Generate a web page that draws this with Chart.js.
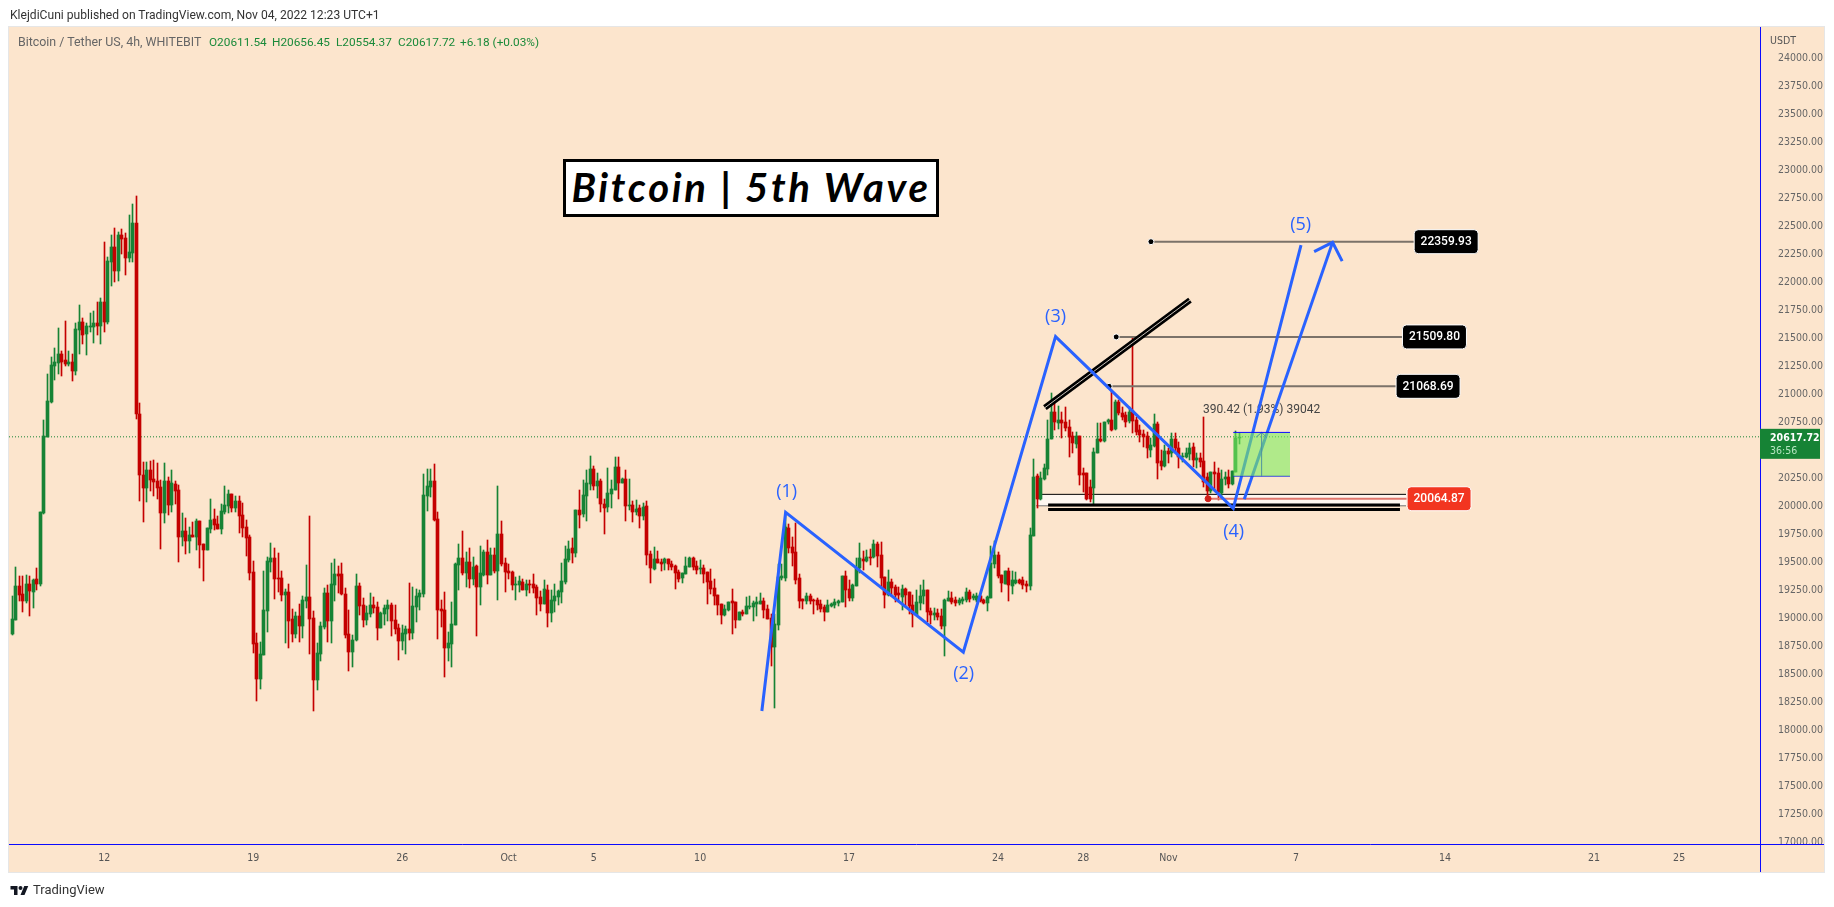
<!DOCTYPE html>
<html>
<head>
<meta charset="utf-8">
<title>Bitcoin | 5th Wave</title>
<script src="https://cdn.jsdelivr.net/npm/chart.js@4/dist/chart.umd.min.js"></script>
<style>
    html, body { margin: 0; padding: 0; background: #fff; width: 1834px; height: 907px; overflow: hidden; }
    body { font-family: Roboto, sans-serif; }
    #frame { position: absolute; left: 8px; top: 26px; width: 1817px; height: 847px; box-sizing: border-box; background: #fce5cd; border: 1px solid #e6e6e6; }
    canvas { position: absolute; left: 0; top: 0; }
    .text { position: absolute; white-space: nowrap; font-size: 12px; line-height: 14px; }
    #published { left: 10px; top: 8px; color: #333; font-size: 12.1px; }
    #symbol { left: 18px; top: 35px; color: #666; font-size: 12.4px; }
    .ohlc { top: 35px; color: #1a8a3a; font-size: 11.8px; }
    #title { position: absolute; left: 563px; top: 159px; width: 376px; height: 58px; box-sizing: border-box; background: #fff; border: 3px solid #000; font: italic bold 40px Lato, sans-serif; letter-spacing: 2.7px; line-height: 50px; text-align: center; color: #000; white-space: nowrap; }
    #logo { position: absolute; left: 10px; top: 884px; width: 19px; height: 14px; }
    #brand { left: 33px; top: 882px; font-size: 13px; line-height: 16px; color: #333; }
</style>
</head>
<body>
<div id="frame"></div>
<canvas id="chart" width="1834" height="907"></canvas>
<div class="text" id="published">KlejdiCuni published on TradingView.com, Nov 04, 2022 12:23 UTC+1</div>
<div class="text" id="symbol">Bitcoin / Tether US, 4h, WHITEBIT</div>
<div class="text ohlc" style="left:209px">O20611.54</div>
<div class="text ohlc" style="left:272px">H20656.45</div>
<div class="text ohlc" style="left:336px">L20554.37</div>
<div class="text ohlc" style="left:398px">C20617.72</div>
<div class="text ohlc" style="left:460px">+6.18 (+0.03%)</div>
<div id="title">Bitcoin | 5th Wave</div>
<svg id="logo" viewBox="0 0 36 28"><path fill="#131722" d="M14 22H7V11H0V4h14v18zM28 22h-8l7.5-18h8L28 22z"/><circle fill="#131722" cx="20" cy="8" r="4"/></svg>
<div class="text" id="brand">TradingView</div>
<script>
// candles, 4h
const opens = [
    18857,18982,19286,19214,19152,19303,19232,19348,19303,19937,
    20616,20928,21250,21276,21357,21303,21268,21285,21205,21571,
    21643,21535,21598,21598,21634,21607,21821,21643,22178,22312,
    22098,22419,22392,22214,22259,22526,20821,20277,20160,20321,
    20241,20223,20169,19937,20223,20009,20196,20143,19723,19777,
    19687,19741,19723,19866,19661,19607,19794,19884,19839,19794,
    19946,20000,20107,19982,20044,19919,19812,19723,19410,18777,
    18455,18669,19062,19500,19536,19357,19357,19205,19232,18991,
    18857,19018,18928,19152,19187,19000,18446,18678,18919,19223,
    18973,19294,19393,19393,19214,18857,18696,18803,19285,19116,
    18982,19036,19116,19098,18910,19036,19080,19116,18982,18910,
    18794,18857,18902,18866,19098,19187,19214,20089,20169,20223,
    19884,19080,19071,18732,18768,18937,19473,19536,19402,19500,
    19348,19464,19277,19384,19589,19384,19562,19419,19750,19491,
    19419,19410,19294,19294,19321,19250,19303,19303,19277,19187,
    19125,19250,19045,19152,19187,19232,19321,19518,19625,19580,
    19964,19928,20089,20196,20330,20178,20223,20018,19991,20107,
    20143,20348,20206,20241,20000,20009,19950,19979,19911,20000,
    19572,19438,19527,19500,19491,19527,19482,19465,19411,19357,
    19393,19456,19536,19465,19438,19447,19411,19331,19268,19206,
    19125,19027,19072,19152,19143,18982,19054,19036,19098,19098,
    19125,19125,19152,19081,19000,18741,18938,19357,19357,19804,
    19634,19590,19357,19170,19152,19197,19161,19161,19125,19099,
    19054,19107,19116,19134,19143,19375,19259,19179,19286,19447,
    19527,19509,19545,19545,19661,19563,19366,19206,19322,19277,
    19224,19188,19259,19232,19116,19027,19134,19197,19250,19063,
    19027,19045,19018,18929,19152,19179,19161,19134,19152,19161,
    19232,19179,19161,19197,19161,19134,19179,19482,19563,19384,
    19304,19420,19286,19313,19340,19340,19304,19286,19732,20268,
    20063,20241,20330,20595,20839,20744,20768,20753,20708,20625,
    20554,20625,20292,20292,20167,20164,20477,20599,20581,20747,
    20765,20685,20926,20828,20813,20762,20851,20768,20679,20643,
    20625,20500,20536,20732,20402,20357,20491,20471,20596,20515,
    20435,20435,20465,20524,20411,20432,20402,20262,20134,20307,
    20292,20119,20238,20262,20197,20307,20611
];
const highs = [
    19196,19455,19375,19375,19384,19375,19348,19446,19946,20768,
    21178,21330,21410,21589,21384,21651,21384,21357,21634,21794,
    21678,21634,21723,21741,21821,21857,22357,22223,22419,22482,
    22446,22473,22437,22598,22696,22767,20919,20393,20393,20402,
    20410,20384,20232,20384,20259,20321,20223,20187,19937,19893,
    19812,19857,19884,19866,19661,19803,20062,19973,19911,20018,
    20178,20143,20107,20089,20089,20027,19875,19741,19509,18866,
    18786,19419,19544,19670,19625,19580,19419,19259,19303,19080,
    19053,19125,19196,19473,19910,19062,18777,18964,19268,19294,
    19491,19527,19464,19491,19268,19071,18848,19393,19312,19178,
    19107,19223,19187,19143,19053,19116,19161,19134,19116,18946,
    18937,18928,19312,19277,19259,19250,20285,20330,20330,20375,
    19946,19161,19232,18875,19143,19491,19660,19777,19589,19625,
    19544,19473,19643,19607,19696,19625,19625,20178,19866,19536,
    19482,19419,19366,19375,19348,19339,19339,19393,19294,19241,
    19339,19294,19250,19303,19250,19491,19643,19687,19714,19964,
    20143,20232,20321,20446,20357,20294,20241,20062,20339,20232,
    20438,20438,20247,20322,20241,20045,20054,20009,20024,20045,
    19598,19634,19598,19527,19536,19527,19509,19473,19429,19402,
    19545,19545,19545,19509,19518,19473,19411,19438,19348,19206,
    19125,19116,19143,19259,19143,19054,19072,19188,19197,19152,
    19188,19223,19179,19116,19036,19036,19482,19482,19950,19840,
    19723,19848,19393,19170,19224,19215,19170,19179,19161,19116,
    19161,19134,19170,19161,19375,19420,19340,19304,19536,19670,
    19598,19607,19616,19697,19679,19679,19366,19429,19345,19295,
    19280,19295,19268,19232,19206,19250,19295,19340,19250,19090,
    19090,19081,19081,19170,19241,19232,19188,19179,19188,19268,
    19250,19215,19224,19206,19170,19197,19643,19688,19590,19384,
    19420,19447,19420,19411,19348,19366,19331,19804,20420,20286,
    20304,20375,20768,21006,20932,20893,20842,20881,20768,20664,
    20664,20625,20336,20292,20232,20515,20738,20738,20747,20780,
    21036,20947,20947,20887,20843,20887,21506,20798,20724,20679,
    20664,20604,20822,20753,20500,20545,20515,20649,20649,20575,
    20471,20515,20560,20560,20471,20471,20795,20292,20307,20396,
    20337,20322,20307,20322,20313,20670,20656
];
const lows = [
    18848,18982,19152,19053,19134,19018,19089,19250,19286,19928,
    20616,20919,21125,21178,21160,21250,21250,21116,21169,21357,
    21446,21348,21553,21455,21526,21446,21553,21625,21964,22000,
    22009,22250,22062,22178,22178,20777,20044,19857,20035,20134,
    20089,20062,19616,19848,19919,19946,20018,19500,19643,19571,
    19580,19723,19607,19446,19330,19607,19759,19785,19794,19750,
    19928,19937,19946,19946,19759,19723,19553,19339,18687,18259,
    18366,18669,18875,19410,19169,19232,19152,18777,18732,18786,
    18821,18786,18821,19089,18678,18170,18357,18616,18902,18786,
    18777,19152,19223,19205,18821,18527,18562,18795,19027,18919,
    18937,19009,19045,18803,18910,18937,18973,18839,18857,18625,
    18714,18678,18803,18812,18964,19071,19187,19955,20080,19866,
    18812,18919,18473,18616,18562,18937,19250,19384,19277,19268,
    19294,18839,19116,19375,19303,19384,19402,19161,19464,19232,
    19348,19250,19161,19232,19250,19196,19223,19223,19027,19062,
    19125,18919,18964,19053,19116,19134,19303,19500,19491,19544,
    19803,19902,19866,20143,20143,20071,19946,19750,19946,19979,
    20143,20063,20203,19866,19964,19857,19920,19804,19875,19473,
    19313,19429,19488,19420,19429,19429,19429,19259,19322,19316,
    19393,19456,19429,19393,19393,19313,19125,19215,19116,19027,
    18947,19018,19066,18857,18911,18982,19018,19036,19081,18974,
    19018,19125,19000,18991,18572,18197,18893,19340,19331,19580,
    19465,19304,19090,19081,19125,19125,19036,19072,19054,18974,
    19054,19099,19090,19107,19143,19099,19152,19152,19286,19402,
    19429,19500,19473,19536,19456,19280,19090,19197,19197,19143,
    19143,19072,19107,19036,18920,19027,19072,19125,18965,18947,
    18982,18982,18902,18661,19152,19125,19107,19116,19125,19143,
    19143,19161,19143,19143,19125,19063,19179,19447,19357,19232,
    19304,19152,19215,19304,19304,19259,19232,19250,19732,19982,
    20054,20232,20277,20595,20679,20685,20604,20673,20440,20470,
    20515,20188,20128,20054,20039,20015,20471,20575,20575,20735,
    20673,20679,20813,20768,20709,20738,20649,20634,20575,20530,
    20426,20441,20530,20244,20322,20352,20381,20441,20471,20337,
    20396,20426,20411,20352,20337,20352,20173,20063,20113,20143,
    20054,20060,20188,20158,20188,20307,20554
];
const closes = [
    18991,19286,19205,19152,19303,19241,19339,19303,19946,20625,
    20937,21259,21285,21357,21285,21268,21285,21205,21580,21643,
    21526,21607,21607,21634,21607,21821,21643,22187,22312,22098,
    22419,22384,22214,22267,22526,20821,20277,20160,20321,20232,
    20214,20160,19937,20223,20009,20205,20134,19723,19777,19687,
    19741,19723,19866,19652,19607,19803,19875,19830,19794,19955,
    20009,20107,19982,20044,19911,19803,19714,19402,18768,18455,
    18678,19071,19509,19536,19348,19348,19205,19232,18973,18857,
    19018,18928,19161,19187,18991,18446,18687,18928,19223,18973,
    19303,19393,19375,19214,18848,18696,18803,19285,19107,18982,
    19045,19116,19089,18910,19045,19089,19116,18973,18902,18794,
    18866,18902,18866,19107,19196,19223,20098,20178,20223,19875,
    19071,19062,18732,18777,18946,19482,19536,19402,19500,19348,
    19455,19277,19402,19589,19384,19562,19419,19750,19482,19410,
    19402,19294,19303,19330,19250,19303,19294,19268,19178,19125,
    19259,19045,19161,19196,19241,19330,19527,19616,19580,19964,
    19919,20098,20205,20330,20178,20223,20018,19982,20116,20152,
    20348,20206,20241,20000,20009,19947,19973,19911,19988,19563,
    19447,19527,19491,19482,19527,19482,19456,19402,19348,19402,
    19465,19536,19456,19429,19447,19393,19322,19259,19197,19116,
    19027,19081,19143,19134,18982,19054,19036,19107,19107,19134,
    19143,19152,19072,18991,18741,18947,19366,19375,19810,19625,
    19580,19340,19152,19152,19197,19152,19152,19116,19081,19054,
    19116,19125,19143,19152,19375,19250,19179,19295,19447,19536,
    19509,19545,19536,19661,19554,19357,19206,19322,19268,19206,
    19206,19259,19206,19107,19036,19143,19197,19250,19054,19027,
    19045,19009,18929,19161,19179,19143,19134,19161,19170,19232,
    19170,19197,19197,19152,19134,19188,19491,19563,19375,19313,
    19420,19295,19340,19340,19313,19295,19286,19741,20259,20063,
    20250,20339,20598,20839,20753,20768,20744,20693,20619,20560,
    20625,20277,20277,20063,20063,20479,20599,20584,20747,20765,
    20679,20926,20828,20798,20753,20843,20762,20664,20634,20619,
    20515,20545,20732,20387,20357,20494,20465,20596,20515,20435,
    20447,20471,20515,20411,20426,20396,20218,20134,20307,20286,
    20128,20241,20262,20197,20313,20611,20618
];

// axes
const priceTicks = [24000,23750,23500,23250,23000,22750,22500,22250,22000,21750,21500,21250,21000,20750,
    20250,20000,19750,19500,19250,19000,18750,18500,18250,18000,17750,17500,17250,17000];
const dateTickBars = [26,68,110,140,164,194,236,278,302,326,362,404,446,470];
const dateTickLabels = ['12','19','26','Oct','5','10','17','24','28','Nov','7','14','21','25'];
const lastPrice = 20617.72;

// elliott wave drawing
const waveBars = [211.4,218.1,268.2,294.2,344.3,363.4];
const wavePrices = [18170,19944,18694,21512,19979,22330];
const arrowBars = [347.4,372.3];
const arrowPrices = [20060,22354];
const arrowHeadBars = [367.1,372.3,375];
const arrowHeadPrices = [22271,22354,22187];
const waveLabels = ['(1)','(2)','(3)','(4)','(5)'];
const waveLabelBars = [218.4,268.3,294.2,344.4,363.3];
const waveLabelPrices = [20125,18500,21690,19771,22512];

// target levels with their price tags
const levelPrices = [22359.93,21509.80,21068.69,20064.87];
const levelStarts = [321.1,311.3,309.3,337.2];
const levelEnds = [395.3,392,390.2,393.3];

// support zone, double lines, trend line
const zoneBars = [288.7,393];
const zoneTop = 20104;
const zoneBottom = 20003;
const railBars = [292.1,391.3];
const railPrices = [20009,19969];
const trendBars = [291.2,332.1];
const trendPrices = [20878,21839];

// long position box
const boxBars = [344.3,360.3];
const boxTop = 20657;
const boxBottom = 20266.6;
const boxArrowBars = [350.7,352.3,353.7];
const boxArrowPrices = [20613,20657,20613];
const boxMidBar = 352.3;
const boxLabelPrice = 20860;

const GREEN = '#168335';
const RED = '#c40000';
const BLUE = '#2962ff';
const PEACH = '#fce5cd';
const NARROW = '"DejaVu Sans Condensed", Roboto';
const xMin = -0.846, xMax = 492.8;
const yMin = 16982, yMax = 24277;

function points(xs, ys) {
    return xs.map((x, i) => ({ x, y: ys[i] }));
}

function line(data, color, width, order, extra) {
    return Object.assign({ type: 'line', data, borderColor: color, borderWidth: width, order,
        pointRadius: 0, tension: 0, fill: false }, extra);
}

function buildDatasets() {
    const candleColor = ctx => closes[ctx.dataIndex] >= opens[ctx.dataIndex] ? GREEN : RED;
    const sets = [
        line(points(boxBars, [boxTop, boxTop]), '#0a0aff', 1, 0,
            { fill: { value: boxBottom }, backgroundColor: 'rgba(125,236,93,0.6)' }),
        line(points(boxBars, [boxBottom, boxBottom]), '#0a0aff', 1, 0),
        line(points([boxMidBar, boxMidBar], [boxBottom, boxTop]), '#0a0aff', 1, 0),
        line(points(boxArrowBars, boxArrowPrices), '#0a0aff', 1, 0),
        line(points(waveBars, wavePrices), BLUE, 3, 2),
        line(points(arrowBars, arrowPrices), BLUE, 3, 2),
        line(points(arrowHeadBars, arrowHeadPrices), BLUE, 3, 2),
        line(points(trendBars, trendPrices), '#c9c2ba', 1, 3),
        line(points(trendBars, trendPrices), '#000', 6, 4),
        line(points(railBars, [railPrices[0], railPrices[0]]), '#000', 3, 4),
        line(points(railBars, [railPrices[1], railPrices[1]]), '#000', 3, 4),
        { type: 'bar', data: opens.map((o, i) => ({ x: i, y: [o, closes[i]] })), barThickness: 3,
            grouped: false, backgroundColor: candleColor, order: 6 },
        { type: 'bar', data: highs.map((h, i) => ({ x: i, y: [lows[i], h] })), barThickness: 1,
            grouped: false, backgroundColor: candleColor, order: 7 },
        line(points([xMin, xMax], [lastPrice, lastPrice]), GREEN, 1, 8, { borderDash: [1, 2] }),
        line(points(zoneBars, [zoneTop, zoneTop]), '#000', 1, 9,
            { fill: { value: zoneBottom }, backgroundColor: 'rgba(255,255,255,0.7)' }),
        line(points(zoneBars, [zoneBottom, zoneBottom]), '#000', 1, 9)
    ];
    levelPrices.forEach((price, i) => {
        const isStop = i === levelPrices.length - 1;
        sets.push(line(points([levelStarts[i], levelEnds[i]], [price, price]),
            isStop ? '#e0766c' : '#7b7269', 2, 5, {
                pointRadius: ctx => ctx.dataIndex === 0 ? 3 : 0,
                pointBackgroundColor: isStop ? '#d0201a' : '#000',
                pointBorderColor: isStop ? '#d0201a' : '#fff',
                pointBorderWidth: 1
            }));
    });
    return sets;
}

function roundedTag(ctx, x, y, w, h, fill, border) {
    ctx.beginPath();
    ctx.roundRect(x, y, w, h, 4);
    ctx.fillStyle = fill;
    ctx.fill();
    if (border) {
        ctx.strokeStyle = border;
        ctx.lineWidth = 1;
        ctx.stroke();
    }
}

// keeps wicks and bodies on whole pixels like the original
const snapCandles = {
    id: 'snapCandles',
    afterDatasetsUpdate(chart) {
        chart.data.datasets.forEach((set, i) => {
            if (set.type !== 'bar') return;
            chart.getDatasetMeta(i).data.forEach(bar => {
                bar.x = Math.floor(bar.x) + 0.5;
                bar.y = Math.round(bar.y);
                bar.base = Math.round(bar.base);
                if (bar.y === bar.base) bar.base += 1;
            });
        });
    }
};

const drawings = {
    id: 'drawings',
    beforeDatasetsDraw(chart) {
        const { ctx, scales: { x, y } } = chart;
        ctx.save();
        ctx.font = '12px Roboto';
        ctx.fillStyle = '#444';
        ctx.textAlign = 'center';
        ctx.textBaseline = 'middle';
        ctx.fillText('390.42 (1.93%) 39042', x.getPixelForValue(boxMidBar), y.getPixelForValue(boxLabelPrice));
        ctx.restore();
    },
    afterDatasetsDraw(chart) {
        const { ctx, scales: { x, y } } = chart;
        ctx.save();
        ctx.textBaseline = 'middle';
        ctx.textAlign = 'center';
        ctx.font = '18px "Open Sans"';
        ctx.fillStyle = BLUE;
        waveLabels.forEach((label, i) => {
            ctx.fillText(label, x.getPixelForValue(waveLabelBars[i]), y.getPixelForValue(waveLabelPrices[i]));
        });
        ctx.font = '500 12px Roboto';
        levelPrices.forEach((price, i) => {
            const left = x.getPixelForValue(levelEnds[i]);
            const mid = y.getPixelForValue(price);
            const fill = i === levelPrices.length - 1 ? '#f23520' : '#000';
            roundedTag(ctx, left, mid - 12, 64, 24, fill, '#fff');
            ctx.fillStyle = '#fff';
            ctx.fillText(price.toFixed(2), left + 32, mid + 0.5);
        });
        ctx.restore();
    },
    afterDraw(chart) {
        const { ctx, chartArea, scales: { y } } = chart;
        const { left, right, bottom, top } = chartArea;
        const frameRight = 1824, frameBottom = 872;
        ctx.save();
        // 17000.00 is cut by the time axis in the original
        ctx.fillStyle = PEACH;
        ctx.fillRect(right + 1, bottom, frameRight - right - 1, frameBottom - bottom);

        ctx.strokeStyle = '#0a0aff';
        ctx.lineWidth = 1;
        ctx.beginPath();
        ctx.moveTo(left, bottom + 0.5);
        ctx.lineTo(frameRight, bottom + 0.5);
        ctx.moveTo(right + 0.5, top);
        ctx.lineTo(right + 0.5, frameBottom);
        ctx.stroke();

        ctx.font = '10.5px ' + NARROW;
        ctx.textBaseline = 'middle';
        ctx.textAlign = 'left';
        ctx.fillStyle = '#555';
        ctx.fillText('USDT', right + 10, 41);

        const mid = y.getPixelForValue(lastPrice);
        ctx.fillStyle = GREEN;
        ctx.fillRect(right, mid - 8, 60, 30);
        ctx.fillStyle = '#fff';
        ctx.font = 'bold 10.5px ' + NARROW;
        ctx.fillText(lastPrice.toFixed(2), right + 10, mid + 1);
        ctx.fillStyle = '#b5e4c0';
        ctx.font = '10.5px ' + NARROW;
        ctx.fillText('36:56', right + 10, mid + 14);
        ctx.restore();
    }
};

function buildChart() {
    const ctx = document.getElementById('chart').getContext('2d');
    new Chart(ctx, {
        type: 'bar',
        data: { datasets: buildDatasets() },
        plugins: [snapCandles, drawings],
        options: {
            responsive: false,
            devicePixelRatio: 1,
            animation: false,
            events: [],
            layout: { padding: { left: 9, right: 10, top: 27, bottom: 35 } },
            plugins: { legend: { display: false }, tooltip: { enabled: false } },
            scales: {
                x: {
                    type: 'linear',
                    offset: false,
                    min: xMin,
                    max: xMax,
                    grid: { display: false },
                    border: { display: false },
                    afterFit: scale => { scale.height = 28; },
                    afterBuildTicks: scale => { scale.ticks = dateTickBars.map(value => ({ value })); },
                    ticks: {
                        autoSkip: false,
                        maxRotation: 0,
                        padding: 0,
                        color: '#555',
                        font: { family: NARROW, size: 10.5 },
                        callback: value => dateTickLabels[dateTickBars.indexOf(value)]
                    }
                },
                y: {
                    position: 'right',
                    min: yMin,
                    max: yMax,
                    grid: { display: false },
                    border: { display: false },
                    afterFit: scale => { scale.width = 64; },
                    afterBuildTicks: scale => { scale.ticks = priceTicks.map(value => ({ value })); },
                    ticks: {
                        autoSkip: false,
                        padding: 10,
                        color: '#666',
                        font: { family: NARROW, size: 10.5 },
                        callback: value => value.toFixed(2)
                    }
                }
            }
        }
    });
}

buildChart();
</script>
</body>
</html>
